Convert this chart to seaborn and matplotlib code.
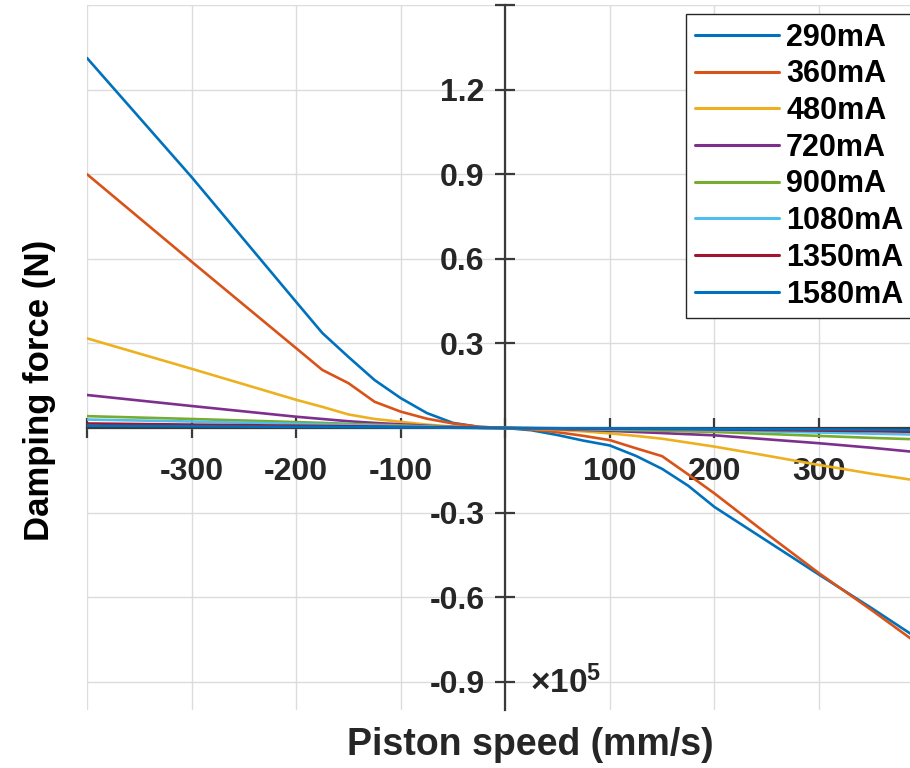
import matplotlib
matplotlib.use("Agg")
import matplotlib.pyplot as plt
import matplotlib.ticker as mticker
import numpy as np
import pandas as pd
import seaborn as sns

# ---------------- data ----------------
speed = [-400, -300, -200, -175, -150, -125, -100, -75, -50, -25, 0,
         25, 50, 75, 100, 125, 150, 175, 200, 250, 300, 350, 400]

f_290 = [1.312, 0.89, 0.447, 0.337, 0.252, 0.17, 0.106, 0.053, 0.018, 0.004, 0.0,
         -0.008, -0.025, -0.045, -0.062, -0.099, -0.145, -0.205, -0.28, -0.40, -0.52, -0.638, -0.76]
f_360 = [0.90, 0.59, 0.283, 0.206, 0.159, 0.093, 0.058, 0.033, 0.016, 0.004, 0.0,
         -0.005, -0.015, -0.028, -0.043, -0.072, -0.10, -0.165, -0.232, -0.375, -0.515, -0.645, -0.78]
f_480 = [0.318, 0.21, 0.10, 0.075, 0.048, 0.032, 0.022, 0.012, 0.005, 0.001, 0.0,
         -0.003, -0.007, -0.012, -0.019, -0.028, -0.038, -0.052, -0.066, -0.098, -0.131, -0.162, -0.19]
f_720 = [0.117, 0.078, 0.04, 0.032, 0.024, 0.018, 0.013, 0.008, 0.004, 0.001, 0.0,
         -0.002, -0.004, -0.007, -0.010, -0.014, -0.018, -0.022, -0.026, -0.040, -0.054, -0.070, -0.088]
f_900 = [0.042, 0.032, 0.021, 0.018, 0.015, 0.012, 0.009, 0.006, 0.003, 0.001, 0.0,
         -0.001, -0.002, -0.004, -0.006, -0.008, -0.010, -0.012, -0.014, -0.021, -0.028, -0.035, -0.041]
f_1080 = [0.030, 0.023, 0.015, 0.013, 0.011, 0.009, 0.007, 0.005, 0.003, 0.001, 0.0,
          -0.001, -0.002, -0.003, -0.004, -0.005, -0.006, -0.007, -0.008, -0.012, -0.016, -0.020, -0.024]
f_1350 = [0.016, 0.012, 0.008, 0.007, 0.006, 0.005, 0.004, 0.003, 0.002, 0.001, 0.0,
          -0.001, -0.001, -0.002, -0.002, -0.003, -0.004, -0.004, -0.005, -0.007, -0.009, -0.011, -0.014]
f_1580 = [0.008, 0.006, 0.004, 0.004, 0.003, 0.003, 0.002, 0.002, 0.001, 0.0, 0.0,
          0.0, -0.001, -0.001, -0.001, -0.002, -0.002, -0.002, -0.003, -0.004, -0.005, -0.006, -0.008]

series_names = ["290mA", "360mA", "480mA", "720mA", "900mA", "1080mA", "1350mA", "1580mA"]
series_vals = [f_290, f_360, f_480, f_720, f_900, f_1080, f_1350, f_1580]
colors = ["#0072BD", "#D95319", "#EDB120", "#7E2F8E", "#77AC30", "#4DBEEE", "#A2142F", "#0072BD"]

x_ticks = [-400, -300, -200, -100, 0, 100, 200, 300]
y_ticks = [-0.9, -0.6, -0.3, 0.0, 0.3, 0.6, 0.9, 1.2, 1.5]

rows = []
for name, vals in zip(series_names, series_vals):
    for s, v in zip(speed, vals):
        rows.append({"speed": s, "force": v, "current": name})
df = pd.DataFrame(rows)

# ---------------- figure ----------------
sns.set_theme(style="white")
plt.rcParams["font.family"] = ["Liberation Sans", "DejaVu Sans"]
plt.rcParams["font.weight"] = "bold"
plt.rcParams["mathtext.fontset"] = "custom"
plt.rcParams["mathtext.rm"] = "Liberation Sans"
plt.rcParams["mathtext.bf"] = "Liberation Sans:bold"

W, H = 910, 768
fig = plt.figure(figsize=(W / 100, H / 100), dpi=100)
ax = fig.add_axes([87 / W, (H - 710) / H, (910 - 87) / W, (710 - 5) / H])

sns.lineplot(data=df, x="speed", y="force", hue="current", hue_order=series_names,
             palette=colors, linewidth=1.9, ax=ax, estimator=None, legend=True)

ax.set_xlim(-400, 387)
ax.set_ylim(-1.0, 1.5)
ax.set_xticks(x_ticks)
ax.set_yticks(y_ticks)

def xfmt(v, pos):
    if abs(v) < 1e-9 or v <= -399:
        return ""
    return f"{int(round(v))}"

def yfmt(v, pos):
    if abs(v) < 1e-9 or v > 1.45:
        return ""
    return f"{v:.1f}"

ax.xaxis.set_major_formatter(mticker.FuncFormatter(xfmt))
ax.yaxis.set_major_formatter(mticker.FuncFormatter(yfmt))

ax.grid(True, color="#dcdcdc", linewidth=1.0)
ax.set_axisbelow(True)

for side in ["top", "right"]:
    ax.spines[side].set_visible(False)
ax.spines["left"].set_position(("data", 0))
ax.spines["bottom"].set_position(("data", 0))
for side in ["left", "bottom"]:
    ax.spines[side].set_color("#3a3a3a")
    ax.spines[side].set_linewidth(1.6)
    ax.spines[side].set_zorder(1.5)

ax.tick_params(axis="both", bottom=True, left=True, top=False, right=False,
               direction="inout", length=14, width=1.6, color="#3a3a3a",
               labelsize=23, labelcolor="#262626")
ax.tick_params(axis="x", pad=14)
ax.tick_params(axis="y", pad=8)
for lab in ax.get_xticklabels() + ax.get_yticklabels():
    lab.set_fontweight("bold")

ax.set_xlabel("")
ax.set_ylabel("")

fig.text(530 / W, 1 - 745 / H, "Piston speed (mm/s)", ha="center", va="center",
         fontsize=27, fontweight="bold", color="#262626")
fig.text(40 / W, 1 - 390 / H, "Damping force (N)", ha="center", va="center",
         rotation=90, fontsize=25, fontweight="bold", color="#000000")
fig.text(530 / W, 1 - 683 / H, r"$\times\mathbf{10^{5}}$", ha="left", va="center",
         fontsize=24, color="#262626")

handles, labels = ax.get_legend_handles_labels()
leg = ax.legend(handles, labels, loc="upper left",
                bbox_to_anchor=(686 / W, 1 - 14 / H), bbox_transform=fig.transFigure,
                frameon=True, fancybox=False, framealpha=1, edgecolor="#262626",
                prop={"size": 22, "weight": "bold"}, handlelength=2.75,
                handletextpad=0.25, labelspacing=0.22, borderpad=0.28, borderaxespad=0)
leg.get_frame().set_linewidth(1.0)
for t in leg.get_texts():
    t.set_color("#000000")
for h in leg.get_lines():
    h.set_linewidth(2.2)

fig.savefig("out.png", dpi=100)
